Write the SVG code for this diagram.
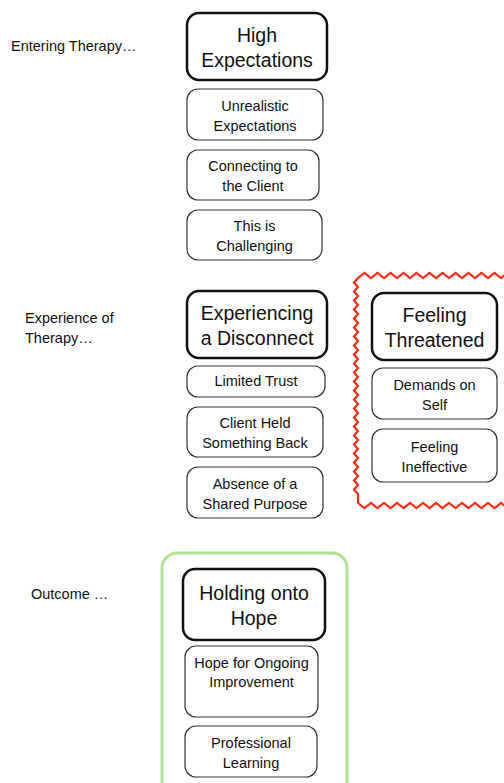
<svg xmlns="http://www.w3.org/2000/svg" width="504" height="783" viewBox="0 0 504 783">
<style>
text{font-family:"Liberation Sans",Arial,Helvetica,sans-serif;fill:#111;}
.lbl{font-size:14.5px;}
.h{font-size:19.5px;text-anchor:middle;}
.s{font-size:14.5px;text-anchor:middle;}
.hb{fill:#fff;stroke:#111;stroke-width:2.5;}
.sb{fill:#fff;stroke:#333;stroke-width:1.2;}
</style>
<rect width="504" height="783" fill="#fff"/>
<g id="frames">
<rect x="162" y="553" width="185" height="260" rx="15" fill="none" stroke="#ade494" stroke-width="3"/>
<path fill="none" stroke="#ff2a17" stroke-width="2.2" stroke-linejoin="miter" d="M358,278 l6.5,-5 l6.5,5 l6.5,-5 l6.5,5 l6.5,-5 l6.5,5 l6.5,-5 l6.5,5 l6.5,-5 l6.5,5 l6.5,-5 l6.5,5 l6.5,-5 l6.5,5 l6.5,-5 l6.5,5 l6.5,-5 l6.5,5 l6.5,-5 l6.5,5 l6.5,-5 l6.5,5 l6.5,-5 l6.5,5 M358,278 l-4,4.5 l4,4.5 l-4,4.5 l4,4.5 l-4,4.5 l4,4.5 l-4,4.5 l4,4.5 l-4,4.5 l4,4.5 l-4,4.5 l4,4.5 l-4,4.5 l4,4.5 l-4,4.5 l4,4.5 l-4,4.5 l4,4.5 l-4,4.5 l4,4.5 l-4,4.5 l4,4.5 l-4,4.5 l4,4.5 l-4,4.5 l4,4.5 l-4,4.5 l4,4.5 l-4,4.5 l4,4.5 l-4,4.5 l4,4.5 l-4,4.5 l4,4.5 l-4,4.5 l4,4.5 l-4,4.5 l4,4.5 l-4,4.5 l4,4.5 l-4,4.5 l4,4.5 l-4,4.5 l4,4.5 l-4,4.5 l4,4.5 l-4,4.5 l4,4.5 L358,503 M358,503 l6.5,5 l6.5,-5 l6.5,5 l6.5,-5 l6.5,5 l6.5,-5 l6.5,5 l6.5,-5 l6.5,5 l6.5,-5 l6.5,5 l6.5,-5 l6.5,5 l6.5,-5 l6.5,5 l6.5,-5 l6.5,5 l6.5,-5 l6.5,5 l6.5,-5 l6.5,5 l6.5,-5 l6.5,5 l6.5,-5"/>
</g>
<g id="labels">
<text class="lbl" x="11" y="51">Entering Therapy…</text>
<text class="lbl" x="25" y="323">Experience of</text>
<text class="lbl" x="25" y="343">Therapy…</text>
<text class="lbl" x="31" y="599">Outcome …</text>
</g>
<g id="connectors"></g>
<g id="n-high-expectations"><rect class="hb" x="187" y="13" width="140" height="67" rx="12"/><text class="h" x="257" y="42">High</text><text class="h" x="257" y="67">Expectations</text></g>
<g id="n-unrealistic"><rect class="sb" x="187" y="89" width="136" height="51" rx="11"/><text class="s" x="255" y="111">Unrealistic</text><text class="s" x="255" y="131">Expectations</text></g>
<g id="n-connecting"><rect class="sb" x="187" y="150" width="132" height="50" rx="11"/><text class="s" x="253" y="171">Connecting to</text><text class="s" x="253" y="191">the Client</text></g>
<g id="n-challenging"><rect class="sb" x="187" y="210" width="135" height="50" rx="11"/><text class="s" x="254.5" y="231">This is</text><text class="s" x="254.5" y="251">Challenging</text></g>
<g id="n-disconnect"><rect class="hb" x="187" y="291" width="140" height="67" rx="12"/><text class="h" x="257" y="320">Experiencing</text><text class="h" x="257" y="345">a Disconnect</text></g>
<g id="n-limited-trust"><rect class="sb" x="187" y="366" width="138" height="31" rx="11"/><text class="s" x="256" y="386">Limited Trust</text></g>
<g id="n-client-held"><rect class="sb" x="187" y="407" width="136" height="50" rx="11"/><text class="s" x="255" y="428">Client Held</text><text class="s" x="255" y="448">Something Back</text></g>
<g id="n-absence"><rect class="sb" x="187" y="467" width="136" height="51" rx="11"/><text class="s" x="255" y="489">Absence of a</text><text class="s" x="255" y="509">Shared Purpose</text></g>
<g id="n-threatened"><rect class="hb" x="372" y="293" width="125" height="67" rx="12"/><text class="h" x="434.5" y="322">Feeling</text><text class="h" x="434.5" y="347">Threatened</text></g>
<g id="n-demands"><rect class="sb" x="372" y="368" width="125" height="51" rx="11"/><text class="s" x="434.5" y="390">Demands on</text><text class="s" x="434.5" y="410">Self</text></g>
<g id="n-ineffective"><rect class="sb" x="372" y="429" width="125" height="53" rx="11"/><text class="s" x="434.5" y="452">Feeling</text><text class="s" x="434.5" y="472">Ineffective</text></g>
<g id="n-hope"><rect class="hb" x="183" y="569" width="142" height="71" rx="12"/><text class="h" x="254" y="600">Holding onto</text><text class="h" x="254" y="625">Hope</text></g>
<g id="n-ongoing"><rect class="sb" x="185" y="646" width="133" height="71" rx="11"/><text class="s" x="251.5" y="668">Hope for Ongoing</text><text class="s" x="251.5" y="687">Improvement</text></g>
<g id="n-learning"><rect class="sb" x="185" y="726" width="132" height="51" rx="11"/><text class="s" x="251" y="748">Professional</text><text class="s" x="251" y="768">Learning</text></g>
</svg>
